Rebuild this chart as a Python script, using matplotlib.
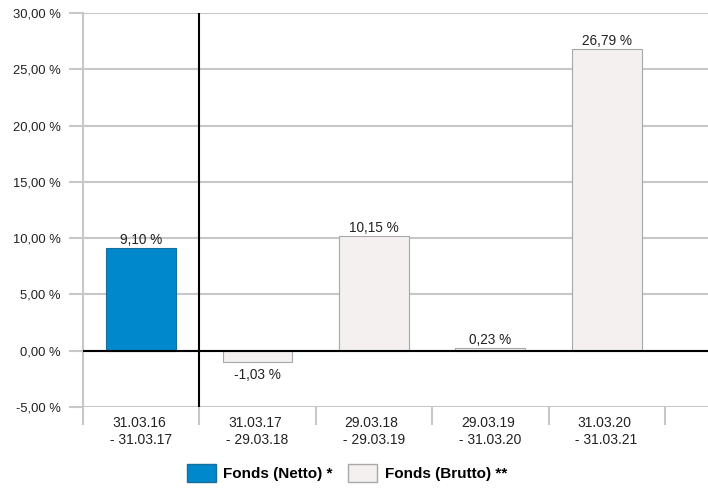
import matplotlib.pyplot as plt
from matplotlib.patches import Patch

plt.rcParams['font.family'] = ['Liberation Sans', 'DejaVu Sans']

periods = ["31.03.16\n - 31.03.17", "31.03.17\n - 29.03.18", "29.03.18\n - 29.03.19",
           "29.03.19\n - 31.03.20", "31.03.20\n - 31.03.21"]
netto = [9.10, None, None, None, None]
brutto = [None, -1.03, 10.15, 0.23, 26.79]
y_ticks = [-5, 0, 5, 10, 15, 20, 25, 30]

blue = '#0088cc'
grey = '#f3f0ef'

fig = plt.figure(figsize=(7.08, 4.9), dpi=100)
ax = fig.add_axes([83 / 708, (490 - 407) / 490, (708 - 83) / 708, (407 - 13) / 490])

for i in range(len(periods)):
    if netto[i] is not None:
        v = netto[i]
        ax.bar(i, v, width=0.6, color=blue, edgecolor='#1b6e9c', linewidth=0.8, zorder=3)
    else:
        v = brutto[i]
        ax.bar(i, v, width=0.6, color=grey, edgecolor='#a8a8a8', linewidth=0.8, zorder=3)
    lbl = f"{v:.2f} %".replace('.', ',')
    if v >= 0:
        ax.text(i, v + 0.1, lbl, ha='center', va='bottom', fontsize=9.8, color='#222222')
    else:
        ax.text(i, v - 0.5, lbl, ha='center', va='top', fontsize=9.8, color='#222222')

ax.set_xlim(-0.5, 4.87)
ax.set_ylim(-5, 30)
ax.set_yticks(y_ticks)
ax.set_yticklabels([f"{t:.2f} %".replace('.', ',') for t in y_ticks], fontsize=9.4, color='#222222')
ax.tick_params(axis='y', length=10, color='#c8c8c8', width=1.5, pad=6)
ax.grid(axis='y', color='#c8c8c8', linewidth=1.5, zorder=0)

ax.set_xticks([i + 0.5 for i in range(-1, 5)], minor=False)
ax.set_xticklabels([])
ax.tick_params(axis='x', length=13, color='#c8c8c8', width=1.5)
for i, p in enumerate(periods):
    ax.text(i - 0.02, -5.8, p, ha='center', va='top', fontsize=10, color='#222222', linespacing=1.3)

for s in ['top', 'right']:
    ax.spines[s].set_visible(False)
ax.spines['left'].set_color('#c8c8c8')
ax.spines['left'].set_linewidth(1.5)
ax.spines['bottom'].set_visible(False)

ax.axhline(0, color='black', linewidth=1.5, zorder=4)
ax.axvline(0.5, color='black', linewidth=1.5, zorder=4)

handles = [Patch(facecolor=blue, edgecolor='#1b6e9c', label='Fonds (Netto) *'),
           Patch(facecolor=grey, edgecolor='#a8a8a8', label='Fonds (Brutto) **')]
fig.legend(handles=handles, loc='center', bbox_to_anchor=(347 / 708, (490 - 473) / 490), ncol=2,
           frameon=False, prop={'weight': 'bold', 'size': 11}, handlelength=1.9, handleheight=1.4,
           columnspacing=1.0, handletextpad=0.5)

fig.savefig('out.png', dpi=100)
